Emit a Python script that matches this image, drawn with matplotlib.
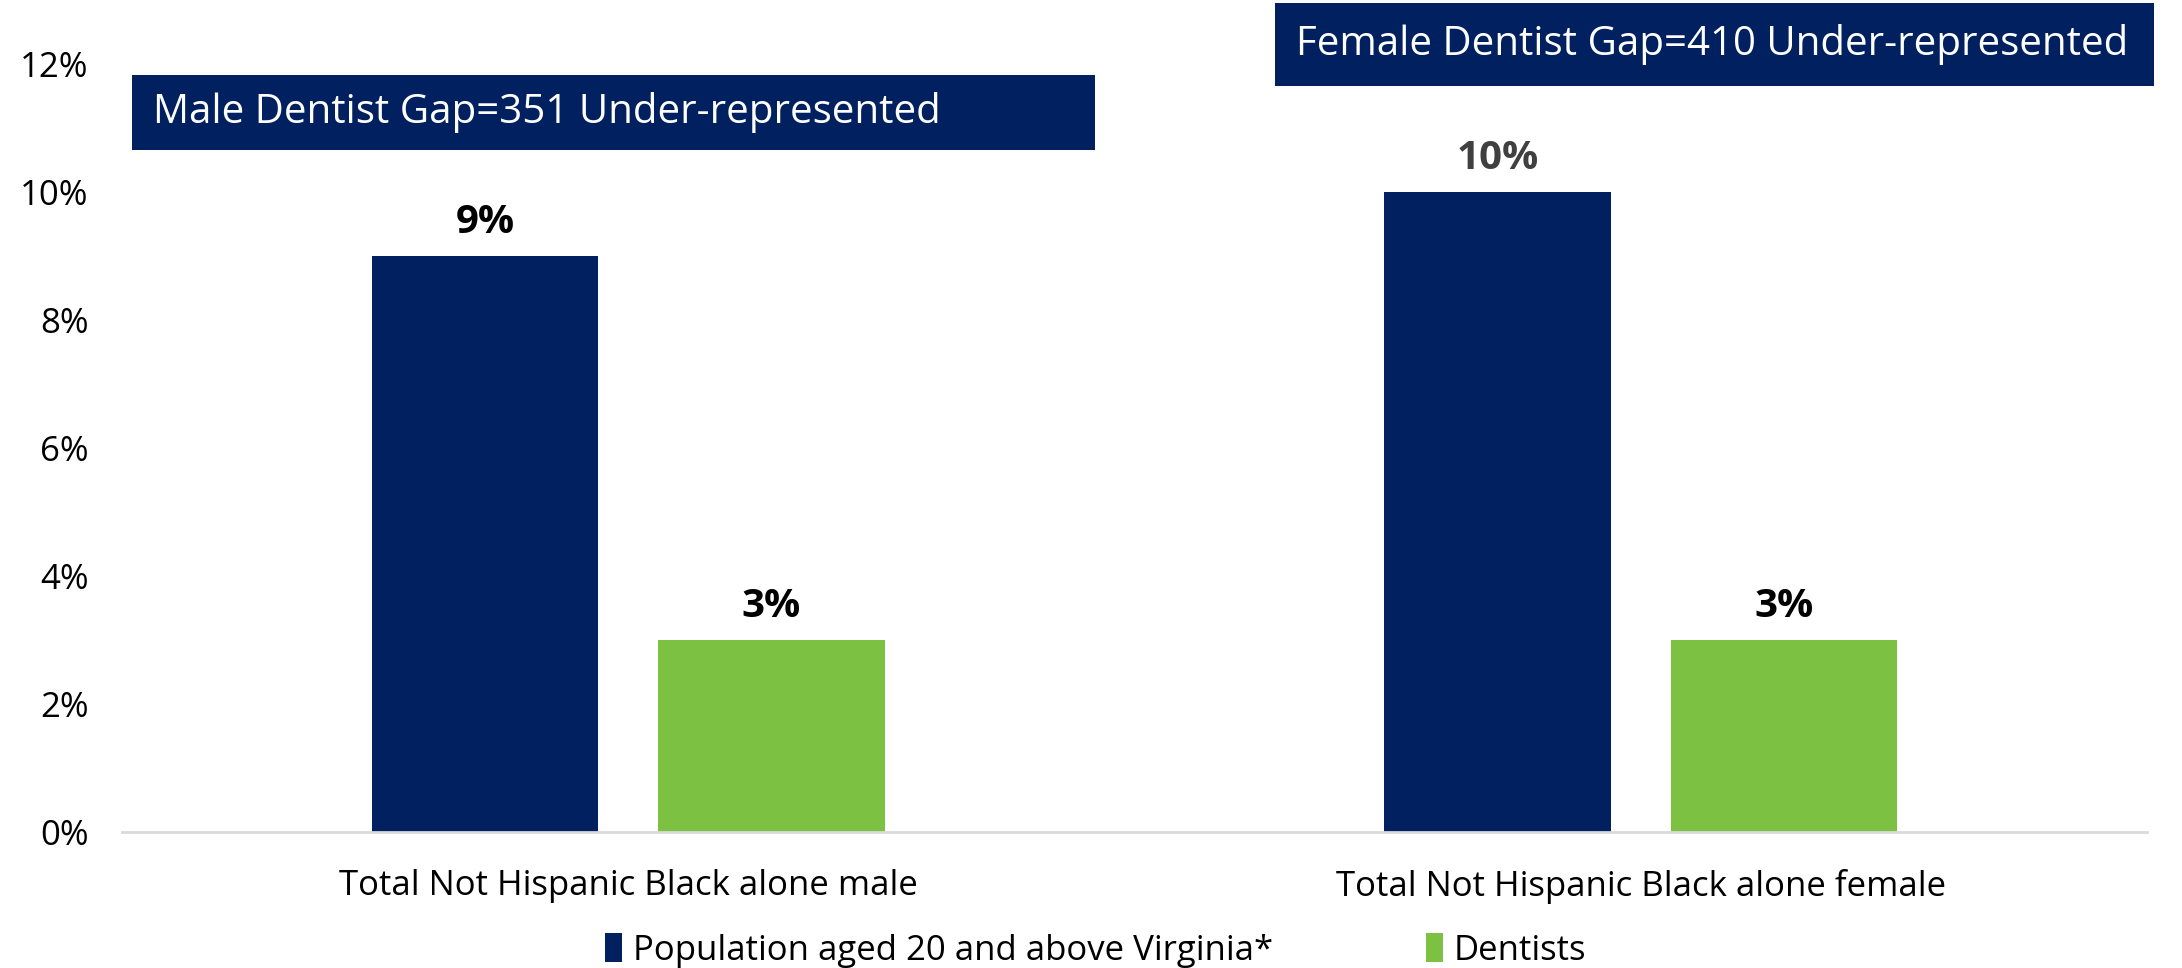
import numpy as np
import matplotlib
matplotlib.use("Agg")
from matplotlib import pyplot as plt
from matplotlib.patches import Rectangle

# data
categories = ["Total Not Hispanic Black alone male", "Total Not Hispanic Black alone female"]
series_names = ["Population aged 20 and above Virginia*", "Dentists"]
population = [0.09, 0.10]
dentists = [0.03, 0.03]
pop_labels = ["9%", "10%"]
dent_labels = ["3%", "3%"]
gap_notes = ["Male Dentist Gap=351 Under-represented", "Female Dentist Gap=410 Under-represented"]
yticks = [0, 0.02, 0.04, 0.06, 0.08, 0.10, 0.12]

navy = "#002060"
green = "#7DC143"

plt.rcParams["font.family"] = ["Open Sans", "DejaVu Sans"]

fig = plt.figure(figsize=(21.82, 9.68), dpi=100)
ax = fig.add_axes([0.0559, 0.1405, 0.9281, 0.7935])

x = np.arange(len(categories))
w = 0.224
off = 0.1415
b1 = ax.bar(x - off, population, w, color=navy, label=series_names[0])
b2 = ax.bar(x + off, dentists, w, color=green, label=series_names[1])

# value labels
for rect, lab, col in zip(b1, pop_labels, ["black", "#404040"]):
    ax.annotate(lab, (rect.get_x() + rect.get_width() / 2, rect.get_height()),
                xytext=(0, 16.5), textcoords="offset points", ha="center", va="baseline",
                fontsize=29, fontweight="bold", color=col)
for rect, lab in zip(b2, dent_labels):
    ax.annotate(lab, (rect.get_x() + rect.get_width() / 2, rect.get_height()),
                xytext=(0, 16.5), textcoords="offset points", ha="center", va="baseline",
                fontsize=29, fontweight="bold", color="black")

ax.set_xlim(-0.5, 1.5)
ax.set_ylim(0, 0.12)
ax.set_yticks(yticks)
ax.set_yticklabels(["{:.0f}%".format(v * 100) for v in yticks], fontsize=25)
ax.set_xticks(x)
ax.set_xticklabels(categories, fontsize=25)
ax.tick_params(axis="y", length=0, pad=24)
ax.tick_params(axis="x", length=0, pad=27)
for s in ["top", "left", "right"]:
    ax.spines[s].set_visible(False)
ax.spines["bottom"].set_color("#D9D9D9")
ax.spines["bottom"].set_linewidth(2)

# gap boxes
boxes = [(0.0605, 0.845, 0.4415, 0.0775), (0.5843, 0.9111, 0.4029, 0.0858)]
for (bx, by, bw, bh), note in zip(boxes, gap_notes):
    fig.patches.append(Rectangle((bx, by), bw, bh, transform=fig.transFigure,
                                 facecolor=navy, edgecolor="none"))
    fig.text(bx + 0.0095, by + bh / 2, note, color="white", fontsize=29,
             ha="left", va="center")

fig.legend(handles=[b1, b2], loc="lower center", bbox_to_anchor=(0.502, -0.032),
           ncol=2, frameon=False, fontsize=25, handlelength=0.5, handleheight=0.9,
           handletextpad=0.3, columnspacing=4.4)

fig.savefig("out.png", dpi=100)
